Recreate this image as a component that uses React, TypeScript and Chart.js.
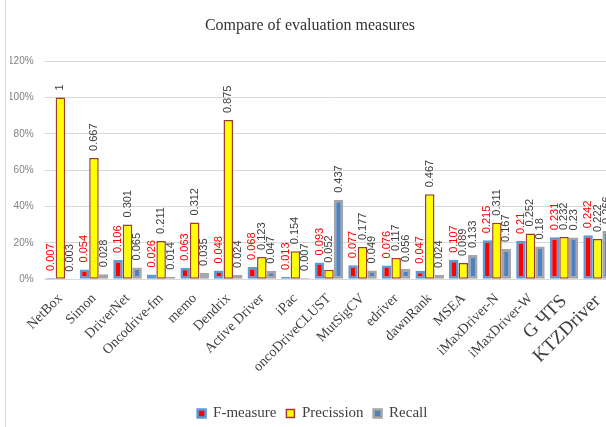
import React, { useEffect, useRef } from 'react';
import { Chart, registerables } from 'chart.js';
Chart.register(...registerables);

const categories = ['NetBox', 'Simon', 'DriverNet', 'Oncodrive-fm', 'memo', 'Dendrix', 'Active Driver', 'iPac', 'oncoDriveCLUST', 'MutSigCV', 'edriver', 'dawnRank', 'MSEA', 'iMaxDriver-N', 'iMaxDriver-W', 'G ЧTS', 'KTZDriver'];
const fMeasure = [0.007, 0.054, 0.106, 0.026, 0.063, 0.048, 0.068, 0.013, 0.093, 0.077, 0.076, 0.047, 0.107, 0.215, 0.21, 0.231, 0.242];
const precission = [1, 0.667, 0.301, 0.211, 0.312, 0.875, 0.123, 0.154, 0.052, 0.177, 0.117, 0.467, 0.089, 0.311, 0.252, 0.232, 0.222];
const recall = [0.003, 0.028, 0.065, 0.014, 0.035, 0.024, 0.047, 0.007, 0.437, 0.049, 0.056, 0.024, 0.133, 0.167, 0.18, 0.23, 0.266];
const seriesNames = ['F-measure', 'Precission', 'Recall'];
const titleText = 'Compare of evaluation measures';
const yMax = 1.2;
const yStep = 0.2;

const CANVAS_W = 625;
const CANVAS_H = 431;

const valueLabels = {
  id: 'valueLabels',
  afterDatasetsDraw(chart: any) {
    const ctx = chart.ctx;
    ctx.save();
    ctx.font = '11px "Liberation Sans", Arial, sans-serif';
    ctx.textAlign = 'left';
    ctx.textBaseline = 'middle';
    chart.data.datasets.forEach((ds: any, di: number) => {
      const meta = chart.getDatasetMeta(di);
      ctx.fillStyle = di === 0 ? '#FF0000' : '#404040';
      meta.data.forEach((el: any, i: number) => {
        ctx.save();
        ctx.translate(el.x, el.y - 7);
        ctx.rotate(-Math.PI / 2);
        ctx.fillText(String(ds.data[i]), 0, 0);
        ctx.restore();
      });
    });
    ctx.restore();
  },
};

const titleFrame = {
  id: 'titleFrame',
  afterDraw(chart: any) {
    const ctx = chart.ctx;
    ctx.save();
    ctx.strokeStyle = '#D9D9D9';
    ctx.lineWidth = 1;
    ctx.beginPath();
    ctx.moveTo(5.5, 0);
    ctx.lineTo(5.5, CANVAS_H);
    ctx.stroke();
    ctx.fillStyle = '#333333';
    ctx.font = '16px "Liberation Serif", "Times New Roman", serif';
    ctx.textAlign = 'center';
    ctx.textBaseline = 'middle';
    ctx.fillText(titleText, 310, 26);
    ctx.restore();
  },
};

export default function App() {
  const ref = useRef<HTMLCanvasElement>(null);
  useEffect(() => {
    if (!ref.current) return;
    const chart = new Chart(ref.current, {
      type: 'bar',
      data: {
        labels: categories,
        datasets: [
          {
            label: seriesNames[0],
            data: fMeasure,
            backgroundColor: '#FF0000',
            borderColor: '#5B9BD5',
            borderWidth: 2.5,
            borderSkipped: false,
          },
          {
            label: seriesNames[1],
            data: precission,
            backgroundColor: '#FFFF00',
            borderColor: '#9C3B2E',
            borderWidth: 1.5,
            borderSkipped: false,
          },
          {
            label: seriesNames[2],
            data: recall,
            backgroundColor: '#4F81BD',
            borderColor: '#A5A5A5',
            borderWidth: 2.5,
            borderSkipped: false,
          },
        ] as any,
      },
      options: {
        animation: false,
        responsive: false,
        devicePixelRatio: 1,
        layout: { padding: { left: 10, right: CANVAS_W - 615, top: 61, bottom: 0 } },
        datasets: { bar: { categoryPercentage: 0.85, barPercentage: 1 } } as any,
        plugins: {
          title: { display: false },
          tooltip: { enabled: false },
          legend: {
            position: 'bottom',
            labels: {
              boxWidth: 8,
              boxHeight: 8,
              padding: 10,
              color: '#404040',
              font: { family: '"Liberation Serif", "Times New Roman", serif', size: 15 },
            },
          },
        },
        scales: {
          x: {
            grid: { display: false, drawTicks: false },
            border: { display: false },
            ticks: {
              autoSkip: false,
              minRotation: 45,
              maxRotation: 45,
              padding: 11,
              color: '#404040',
              font: (c: any) => ({
                family: '"Liberation Serif", "Times New Roman", serif',
                size: c.index >= 15 ? 19 : 14,
              }),
            } as any,
            afterFit: (s: any) => {
              s.height = 116.7;
            },
          },
          y: {
            min: 0,
            max: yMax,
            grid: { color: '#D9D9D9', drawTicks: false },
            border: { display: false },
            ticks: {
              stepSize: yStep,
              padding: 10,
              color: '#808080',
              font: { family: '"Liberation Sans", Arial, sans-serif', size: 10 },
              callback: (v: any) => Math.round(Number(v) * 100) + '%',
            },
            afterFit: (s: any) => {
              s.width = 33.6;
            },
          },
        },
      },
      plugins: [valueLabels, titleFrame],
    });
    return () => chart.destroy();
  }, []);
  return (
    <div style={{ position: 'fixed', left: 0, top: 0, width: 606, height: 427, overflow: 'hidden', background: '#fff' }}>
      <canvas ref={ref} width={CANVAS_W} height={CANVAS_H} style={{ width: CANVAS_W, height: CANVAS_H, display: 'block' }} />
    </div>
  );
}
